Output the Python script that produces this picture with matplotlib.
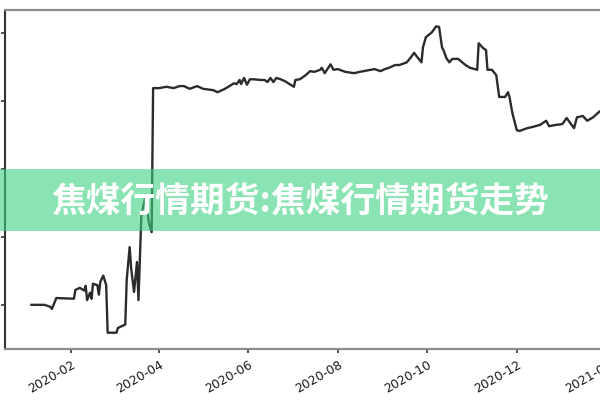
import pandas as pd
import matplotlib
matplotlib.use("Agg")
import matplotlib.pyplot as plt
import matplotlib.dates as mdates
from matplotlib.patches import Rectangle

# 焦煤期货 daily closing price
dates = [
    "2020-01-05", "2020-01-14", "2020-01-18", "2020-01-19", "2020-01-22",
    "2020-02-03", "2020-02-04", "2020-02-07", "2020-02-10", "2020-02-11",
    "2020-02-12", "2020-02-14", "2020-02-15", "2020-02-16", "2020-02-19",
    "2020-02-20", "2020-02-21", "2020-02-23", "2020-02-25", "2020-02-26",
    "2020-03-03", "2020-03-04", "2020-03-07", "2020-03-09", "2020-03-10",
    "2020-03-12", "2020-03-13", "2020-03-15", "2020-03-17", "2020-03-18",
    "2020-03-20", "2020-03-23", "2020-03-25", "2020-03-27", "2020-03-28",
    "2020-04-01", "2020-04-06", "2020-04-11", "2020-04-15", "2020-04-18",
    "2020-04-22", "2020-04-27", "2020-05-01", "2020-05-08", "2020-05-11",
    "2020-05-16", "2020-05-19", "2020-05-22", "2020-05-24", "2020-05-26",
    "2020-05-27", "2020-05-29", "2020-05-31", "2020-06-02", "2020-06-05",
    "2020-06-09", "2020-06-12", "2020-06-14", "2020-06-16", "2020-06-18",
    "2020-06-20", "2020-06-23", "2020-06-26", "2020-06-29", "2020-07-02",
    "2020-07-03", "2020-07-06", "2020-07-10", "2020-07-13", "2020-07-16",
    "2020-07-20", "2020-07-21", "2020-07-23", "2020-07-27", "2020-07-29",
    "2020-08-01", "2020-08-06", "2020-08-12", "2020-08-16", "2020-08-26",
    "2020-08-30", "2020-09-02", "2020-09-05", "2020-09-09", "2020-09-12",
    "2020-09-17", "2020-09-20", "2020-09-22", "2020-09-24", "2020-09-27",
    "2020-09-28", "2020-09-30", "2020-10-04", "2020-10-07", "2020-10-09",
    "2020-10-11", "2020-10-12", "2020-10-14", "2020-10-16", "2020-10-18",
    "2020-10-22", "2020-10-27", "2020-10-30", "2020-11-04", "2020-11-05",
    "2020-11-08", "2020-11-10", "2020-11-11", "2020-11-14", "2020-11-17",
    "2020-11-19", "2020-11-23", "2020-11-25", "2020-11-26", "2020-11-28",
    "2020-12-01", "2020-12-03", "2020-12-08", "2020-12-12", "2020-12-17",
    "2020-12-21", "2020-12-23", "2020-12-28", "2021-01-01", "2021-01-04",
    "2021-01-09", "2021-01-11", "2021-01-15", "2021-01-18", "2021-01-22",
    "2021-01-25", "2021-01-28",
]
prices = [
    1100, 1100, 1097, 1094, 1110,
    1109, 1122, 1125, 1121, 1128,
    1107, 1118, 1109, 1131, 1129,
    1115, 1134, 1143, 1129, 1059,
    1059, 1066, 1069, 1071, 1137,
    1185, 1154, 1119, 1163, 1107,
    1232, 1262, 1222, 1207, 1419,
    1419, 1421, 1419, 1422, 1422,
    1418, 1422, 1418, 1416, 1413,
    1418, 1422, 1426, 1425, 1431,
    1425, 1434, 1424, 1432, 1432,
    1431, 1431, 1428, 1434, 1428,
    1434, 1432, 1429, 1425, 1421,
    1431, 1432, 1438, 1444, 1443,
    1446, 1449, 1441, 1454, 1446,
    1447, 1443, 1441, 1443, 1447,
    1444, 1447, 1449, 1453, 1453,
    1457, 1465, 1471, 1465, 1457,
    1479, 1494, 1501, 1510, 1509,
    1479, 1475, 1463, 1457, 1462,
    1462, 1453, 1449, 1446, 1485,
    1478, 1475, 1446, 1446, 1438,
    1406, 1406, 1413, 1406, 1382,
    1357, 1356, 1360, 1362, 1365,
    1371, 1363, 1365, 1366, 1375,
    1360, 1376, 1378, 1371, 1376,
    1382, 1387,
]
y_ticks = [1100, 1200, 1300, 1400, 1500]
title = "焦煤行情期货:焦煤行情期货走势"

df = pd.DataFrame({"date": pd.to_datetime(dates), "price": prices})

fig = plt.figure(figsize=(6, 4), dpi=100)
# the picture is a crop: axes run past the right edge, y labels are cut away
ax = fig.add_axes([5 / 600, 51 / 400, 635 / 600, 339 / 400])
ax.plot(df["date"], df["price"], color="#2b2b2b", linewidth=1.7)

ax.set_xlim(pd.Timestamp("2019-12-18"), pd.Timestamp("2021-02-23"))
ax.set_ylim(1035, 1534)
ax.set_yticks(y_ticks)
ax.xaxis.set_major_locator(mdates.MonthLocator(bymonth=[2, 4, 6, 8, 10, 12]))
ax.xaxis.set_major_formatter(mdates.DateFormatter("%Y-%m"))
ax.tick_params(axis="both", length=3, width=1.2, color="#333333",
               labelsize=9, labelcolor="#1a1a1a")
ax.tick_params(axis="y", labelleft=False)
for lbl in ax.get_xticklabels():
    lbl.set_rotation(30)
    lbl.set_ha("right")
    lbl.set_rotation_mode("anchor")

ax.spines["left"].set_color("#333333")
ax.spines["left"].set_linewidth(1.5)
for side in ["top", "bottom", "right"]:
    ax.spines[side].set_color("#8c8c8c")
    ax.spines[side].set_linewidth(1.6)

# green banner with the title across the middle
fig.patches.append(Rectangle((0, (400 - 231) / 400), 1, 62 / 400,
                             transform=fig.transFigure, facecolor="#3dd17f",
                             alpha=0.6, edgecolor="none", zorder=5))
fig.text(0.5, 0.4975, title, ha="center", va="center", color="white",
         fontsize=25, fontweight="bold", zorder=6,
         family=["Noto Sans CJK SC", "DejaVu Sans"])

fig.savefig("out.png", dpi=100)
